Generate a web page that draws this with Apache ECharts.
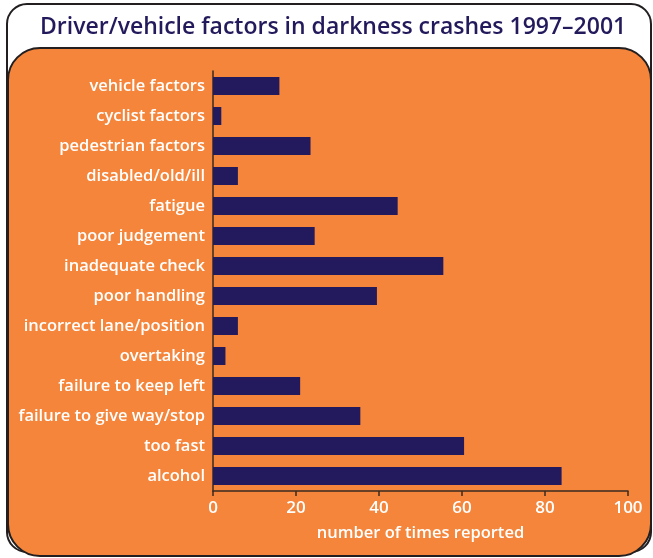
<!DOCTYPE html>
<html>
<head>
<meta charset="utf-8">
<script src="https://cdn.jsdelivr.net/npm/echarts@6/dist/echarts.min.js"></script>
<style>html,body{margin:0;padding:0;background:#fff;}#c{width:653px;height:558px;}</style>
</head>
<body>
<div id="c"></div>
<script>
var categories = ["vehicle factors","cyclist factors","pedestrian factors","disabled/old/ill","fatigue","poor judgement","inadequate check","poor handling","incorrect lane/position","overtaking","failure to keep left","failure to give way/stop","too fast","alcohol"];
var counts = [16, 2, 23.5, 6, 44.5, 24.5, 55.5, 39.5, 6, 3, 21, 35.5, 60.5, 84];
var xTicks = [0, 20, 40, 60, 80, 100];
var titleText = "Driver/vehicle factors in darkness crashes 1997\u20132001";
var axisName = "number of times reported";

var FONT = "Open Sans";
var chart = echarts.init(document.getElementById('c'), null, {renderer: 'canvas'});
chart.setOption({
  animation: false,
  backgroundColor: '#ffffff',
  graphic: [
    {type: 'rect', z: -20, shape: {x: 7, y: 4, width: 644, height: 548, r: 20},
     style: {fill: '#ffffff', stroke: '#231f20', lineWidth: 2}},
    {type: 'rect', z: -19, shape: {x: 8, y: 48, width: 643, height: 508, r: 32},
     style: {fill: '#F4853B', stroke: '#231f20', lineWidth: 2}}
  ],
  title: {
    text: titleText, left: 35, top: 11,
    textStyle: {color: '#231A5C', fontSize: 23, fontWeight: 600, fontFamily: FONT}
  },
  grid: {left: 213, right: 25, top: 71, bottom: 67, containLabel: false},
  xAxis: {
    type: 'value', min: 0, max: 100, interval: 20,
    name: axisName, nameLocation: 'middle', nameGap: 34,
    nameTextStyle: {color: '#ffffff', fontSize: 16.5, fontWeight: 600, fontFamily: FONT},
    axisLine: {show: true, lineStyle: {color: '#3a2a20', width: 1.5}},
    axisTick: {show: true, length: 5, lineStyle: {color: '#3a2a20', width: 1.5}},
    axisLabel: {color: '#ffffff', fontSize: 17, fontWeight: 600, fontFamily: FONT, margin: 9,
      formatter: function (v) { return xTicks.indexOf(v) >= 0 ? String(v) : ''; }},
    splitLine: {show: false}
  },
  yAxis: {
    type: 'category', data: categories, inverse: true,
    axisLine: {show: true, lineStyle: {color: '#3a2a20', width: 1.5}},
    axisTick: {show: false},
    axisLabel: {color: '#ffffff', fontSize: 16.5, fontWeight: 600, fontFamily: FONT, margin: 8}
  },
  series: [{
    type: 'bar', data: counts, barWidth: 18,
    itemStyle: {color: '#23195D'}
  }]
});
</script>
</body>
</html>
